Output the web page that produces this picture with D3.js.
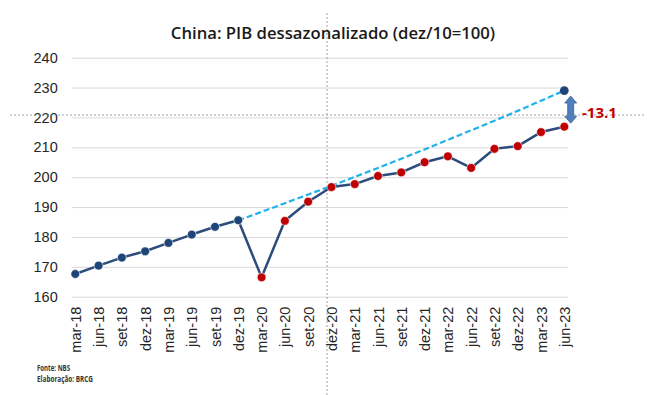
<!DOCTYPE html>
<html>
<head>
<meta charset="utf-8">
<script src="https://cdn.jsdelivr.net/npm/d3@7"></script>
<style>
  body { margin: 0; background: #fff; }
  svg { display: block; font-family: "Open Sans", "Noto Sans", sans-serif; }
</style>
</head>
<body>
<div class="container"></div>
<script>
const w = 664;
const h = 395;

// quarters on the x axis
const quarters = ['mar-18', 'jun-18', 'set-18', 'dez-18', 'mar-19', 'jun-19', 'set-19', 'dez-19',
                  'mar-20', 'jun-20', 'set-20', 'dez-20', 'mar-21', 'jun-21', 'set-21', 'dez-21',
                  'mar-22', 'jun-22', 'set-22', 'dez-22', 'mar-23', 'jun-23'];
// seasonally adjusted GDP index (dez/10=100)
const gdp = [167.6, 170.4, 173.1, 175.2, 178.0, 180.8, 183.4, 185.6,
             166.5, 185.4, 191.8, 196.7, 197.7, 200.4, 201.6, 205.0,
             207.0, 203.1, 209.5, 210.4, 215.1, 216.9];
// pre-covid trend, starting at dez-19
const trend = [null, null, null, null, null, null, null, 185.6,
               188.4, 191.3, 194.2, 197.1, 200.1, 203.1, 206.2, 209.3,
               212.5, 215.7, 218.9, 222.2, 225.6, 229.0];
const yTicks = [160, 170, 180, 190, 200, 210, 220, 230, 240];
const gapLabel = '-13.1';
const lastPreCovid = 'dez-19';

const svg = d3.select('.container')
              .append('svg')
              .attr('width', w)
              .attr('height', h);

const xScale = d3.scalePoint()
                 .domain(quarters)
                 .range([75.3, 564.3]);
const yScale = d3.scaleLinear()
                 .domain([160, 240])
                 .range([296.7, 57.7]);

const gridLeft = 71.7, gridRight = 568;

// grid lines
svg.append('g')
   .attr('transform', `translate(${gridLeft},0)`)
   .call(d3.axisLeft(yScale).tickValues(yTicks).tickSize(-(gridRight - gridLeft)).tickFormat(''))
   .call(g => g.select('.domain').remove())
   .selectAll('line')
   .attr('stroke', '#d9d9d9')
   .attr('stroke-width', 1);

// y axis labels
svg.append('g')
   .attr('transform', `translate(${gridLeft},0)`)
   .call(d3.axisLeft(yScale).tickValues(yTicks).tickSize(0).tickPadding(14))
   .call(g => g.select('.domain').remove())
   .selectAll('text')
   .style('font-size', '14.5px')
   .style('fill', '#262626');

// x axis labels
svg.append('g')
   .attr('transform', `translate(0,${yScale(160)})`)
   .call(d3.axisBottom(xScale).tickSize(0))
   .call(g => g.select('.domain').remove())
   .selectAll('text')
   .attr('transform', 'rotate(-90)')
   .attr('x', -10)
   .attr('y', 0)
   .attr('dy', '0.35em')
   .style('text-anchor', 'end')
   .style('font-size', '14.5px')
   .style('fill', '#262626');

// reference dotted lines
svg.append('line')
   .attr('x1', 327).attr('x2', 327)
   .attr('y1', 13).attr('y2', h)
   .attr('stroke', '#8c8c8c')
   .attr('stroke-width', 0.8)
   .attr('stroke-dasharray', '2,2');
svg.append('line')
   .attr('x1', 10).attr('x2', 645)
   .attr('y1', 115).attr('y2', 115)
   .attr('stroke', '#8c8c8c')
   .attr('stroke-width', 0.8)
   .attr('stroke-dasharray', '2,2');

// title
svg.append('text')
   .text('China: PIB dessazonalizado (dez/10=100)')
   .attr('x', 333)
   .attr('y', 39)
   .attr('text-anchor', 'middle')
   .style('font-size', '16.7px')
   .style('font-weight', 600)
   .style('fill', '#1a1a1a');

// trend line (dashed)
const trendLine = d3.line()
                    .defined(d => d[1] !== null)
                    .curve(d3.curveMonotoneX)
                    .x(d => xScale(d[0]))
                    .y(d => yScale(d[1]));
svg.append('path')
   .datum(quarters.map((q, i) => [q, trend[i]]))
   .attr('d', trendLine)
   .attr('fill', 'none')
   .attr('stroke', '#1fb2ea')
   .attr('stroke-width', 2.2)
   .attr('stroke-dasharray', '6,3');

// gdp line
const gdpLine = d3.line()
                  .x((d, i) => xScale(quarters[i]))
                  .y(d => yScale(d));
svg.append('path')
   .datum(gdp)
   .attr('d', gdpLine)
   .attr('fill', 'none')
   .attr('stroke', '#2c4c7c')
   .attr('stroke-width', 2.5)
   .attr('stroke-linejoin', 'round');

// points
const cut = quarters.indexOf(lastPreCovid);
svg.selectAll('circle.dot')
   .data(gdp)
   .enter()
   .append('circle')
   .attr('class', 'dot')
   .attr('cx', (d, i) => xScale(quarters[i]))
   .attr('cy', d => yScale(d))
   .attr('r', 4.4)
   .style('fill', (d, i) => i <= cut ? '#1f4477' : '#c00000')
   .style('stroke', '#fff')
   .style('stroke-width', 0.6);

// trend end point
const last = quarters.length - 1;
svg.append('circle')
   .attr('cx', xScale(quarters[last]))
   .attr('cy', yScale(trend[last]))
   .attr('r', 4.4)
   .style('fill', '#1f4477');

// double arrow between trend and actual
const ax = xScale(quarters[last]) + 6.4;
const arrTop = yScale(trend[last]) + 5.5;
const arrBot = yScale(gdp[last]) - 3.5;
const hw = 6, sw = 3, hh = 7;
svg.append('path')
   .attr('d', `M${ax},${arrTop} L${ax + hw},${arrTop + hh} L${ax + sw},${arrTop + hh}
               L${ax + sw},${arrBot - hh} L${ax + hw},${arrBot - hh} L${ax},${arrBot}
               L${ax - hw},${arrBot - hh} L${ax - sw},${arrBot - hh} L${ax - sw},${arrTop + hh}
               L${ax - hw},${arrTop + hh} Z`)
   .attr('fill', '#4f7fbd')
   .attr('stroke', '#3a6396')
   .attr('stroke-width', 0.8);

svg.append('text')
   .text(gapLabel)
   .attr('x', 582)
   .attr('y', 118)
   .style('font-size', '15px')
   .style('font-weight', 700)
   .style('fill', '#c00000');

// footnotes
svg.append('text')
   .text('Fonte: NBS')
   .attr('x', 37)
   .attr('y', 370.5)
   .attr('textLength', 33)
   .attr('lengthAdjust', 'spacingAndGlyphs')
   .style('font-size', '8px')
   .style('font-weight', 700)
   .style('fill', '#333');
svg.append('text')
   .text('Elaboração: BRCG')
   .attr('x', 37)
   .attr('y', 381.5)
   .attr('textLength', 56)
   .attr('lengthAdjust', 'spacingAndGlyphs')
   .style('font-size', '8px')
   .style('font-weight', 700)
   .style('fill', '#333');
</script>
</body>
</html>
